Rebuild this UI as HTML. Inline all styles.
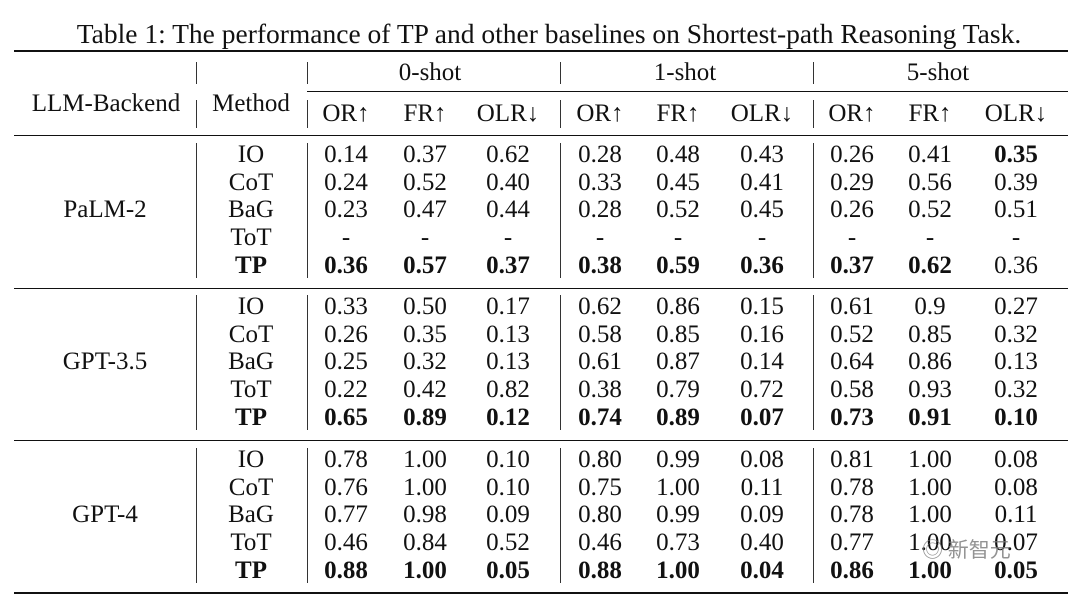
<!DOCTYPE html>
<html><head><meta charset="utf-8"><style>
body{margin:0;width:1080px;height:597px;background:#fff;position:relative;overflow:hidden;font-family:"Liberation Serif","Noto Serif CJK SC",serif;color:#111}
.t{position:absolute;transform:translate(-50%,-50%);white-space:nowrap;font-size:25px}
.b{font-weight:bold}
.h{position:absolute;background:#111}
.v{position:absolute;width:1px;background:#333}
</style></head><body>
<div class="t" style="left:549px;top:34px;font-size:27.5px">Table 1: The performance of TP and other baselines on Shortest-path Reasoning Task.</div>
<div class="h" style="left:14px;top:50px;width:1054px;height:2px"></div>
<div class="h" style="left:307px;top:91px;width:761px;height:1px"></div>
<div class="h" style="left:14px;top:135px;width:1054px;height:1px"></div>
<div class="h" style="left:14px;top:288px;width:1054px;height:1px"></div>
<div class="h" style="left:14px;top:440px;width:1054px;height:1px"></div>
<div class="h" style="left:14px;top:592px;width:1054px;height:2px"></div>
<div id="vl"></div>
<div class="t" style="left:106px;top:104px">LLM-Backend</div>
<div class="t" style="left:251px;top:104px">Method</div>
<div class="t" style="left:430px;top:73px">0-shot</div>
<div class="t" style="left:685px;top:73px">1-shot</div>
<div class="t" style="left:938px;top:73px">5-shot</div>
<div id="c"></div>
<div style="position:absolute;left:922px;top:534px;color:rgba(120,120,120,.8);font-family:'Noto Sans CJK SC',sans-serif;font-size:21px">◎ 新智元</div>
<script>
var c=document.getElementById('c'),h='';
function T(x,y,s,b){h+='<div class="t'+(b?' b':'')+'" style="left:'+x+'px;top:'+y+'px">'+s+'</div>';}
var xs=[346,425,508,600,678,762,852,930,1016];
var sub=['OR↑','FR↑','OLR↓'];
for(var i=0;i<9;i++)T(xs[i],114,sub[i%3]);
var groups=[['PaLM-2',155,[
['IO','0.14 0.37 0.62 0.28 0.48 0.43 0.26 0.41 *0.35'],
['CoT','0.24 0.52 0.40 0.33 0.45 0.41 0.29 0.56 0.39'],
['BaG','0.23 0.47 0.44 0.28 0.52 0.45 0.26 0.52 0.51'],
['ToT','- - - - - - - - -'],
['*TP','*0.36 *0.57 *0.37 *0.38 *0.59 *0.36 *0.37 *0.62 0.36']]],
['GPT-3.5',307,[
['IO','0.33 0.50 0.17 0.62 0.86 0.15 0.61 0.9 0.27'],
['CoT','0.26 0.35 0.13 0.58 0.85 0.16 0.52 0.85 0.32'],
['BaG','0.25 0.32 0.13 0.61 0.87 0.14 0.64 0.86 0.13'],
['ToT','0.22 0.42 0.82 0.38 0.79 0.72 0.58 0.93 0.32'],
['*TP','*0.65 *0.89 *0.12 *0.74 *0.89 *0.07 *0.73 *0.91 *0.10']]],
['GPT-4',460,[
['IO','0.78 1.00 0.10 0.80 0.99 0.08 0.81 1.00 0.08'],
['CoT','0.76 1.00 0.10 0.75 1.00 0.11 0.78 1.00 0.08'],
['BaG','0.77 0.98 0.09 0.80 0.99 0.09 0.78 1.00 0.11'],
['ToT','0.46 0.84 0.52 0.46 0.73 0.40 0.77 1.00 0.07'],
['*TP','*0.88 *1.00 *0.05 *0.88 *1.00 *0.04 *0.86 *1.00 *0.05']]]];
var vl='';
groups.forEach(function(g){
 var y0=g[1];
 T(105,y0+2*27.7,g[0]);
 g[2].forEach(function(r,j){
  var y=y0+j*27.7,m=r[0];
  T(251,y,m.replace('*',''),m[0]=='*');
  r[1].split(' ').forEach(function(v,k){T(xs[k],y,v.replace('*',''),v[0]=='*');});
 });
 [196,307,560,813].forEach(function(x){vl+='<div class="v" style="left:'+x+'px;top:'+(y0-12)+'px;height:'+(4*27.7+24)+'px"></div>';});
});
[196,307,560,813].forEach(function(x){vl+='<div class="v" style="left:'+x+'px;top:62px;height:22px"></div><div class="v" style="left:'+x+'px;top:100px;height:28px"></div>';});
c.innerHTML=h;document.getElementById('vl').innerHTML=vl;
</script>
</body></html>
